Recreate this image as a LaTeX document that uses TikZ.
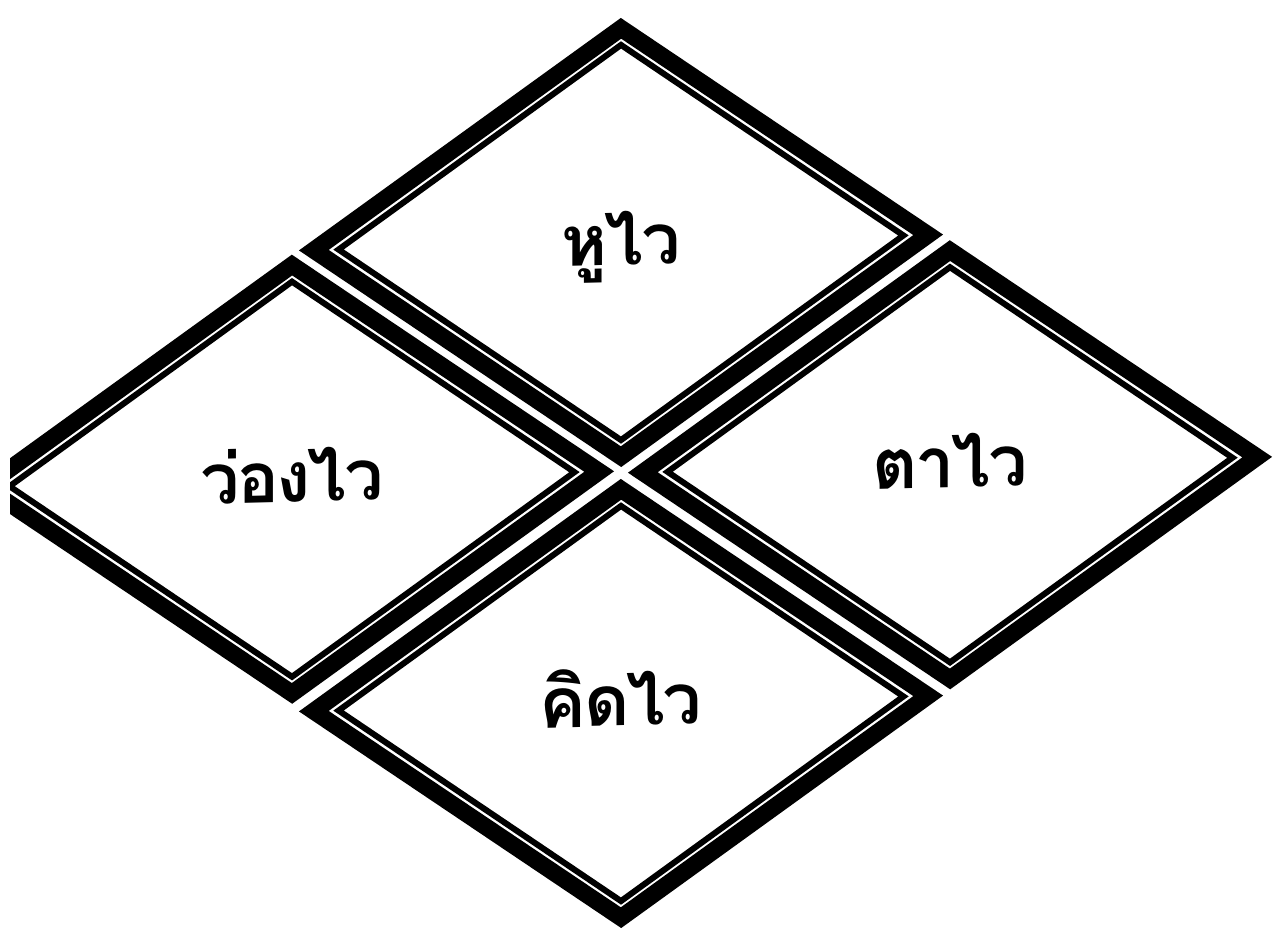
\documentclass[tikz,border=0pt]{standalone}
\usepackage{fontspec}
\newfontfamily\thaifont[Script=Thai, LetterSpace=-4]{Loma}
\usetikzlibrary{shapes.geometric}

\begin{document}
\begin{tikzpicture}[x=0.5pt, y=-0.5pt,
  tile/.style={diamond, draw, line width=8.5pt, inner sep=0pt, minimum width=310.7pt, minimum height=217.7pt,
    font=\thaifont\bfseries\fontsize{35}{40}\selectfont, text height=24pt, text depth=1.5pt},
  tilein/.style={diamond, draw, line width=3pt, inner sep=0pt, minimum width=283.7pt, minimum height=198.8pt}]
  \useasboundingbox (0,0) rectangle (1280,935);
  \clip (10,0) rectangle (1280,935);

  \begin{scope}[shift={(621,473)}, yslant=0.025, shift={(-621,-473)}, transform shape]
  \node[tile] (hu) at (621,242.5) {หูไว};
  \node[tile] (wong) at (292,471) {ว่องไว};
  \node[tile] (ta) at (950,473) {ตาไว};
  \node[tile] (kit) at (621,703.5) {คิดไว};

  % inner thin border of each tile
  \node[tilein] (huin) at (hu) {};
  \node[tilein] (wongin) at (wong) {};
  \node[tilein] (tain) at (ta) {};
  \node[tilein] (kitin) at (kit) {};
  \end{scope}
\end{tikzpicture}
\end{document}
